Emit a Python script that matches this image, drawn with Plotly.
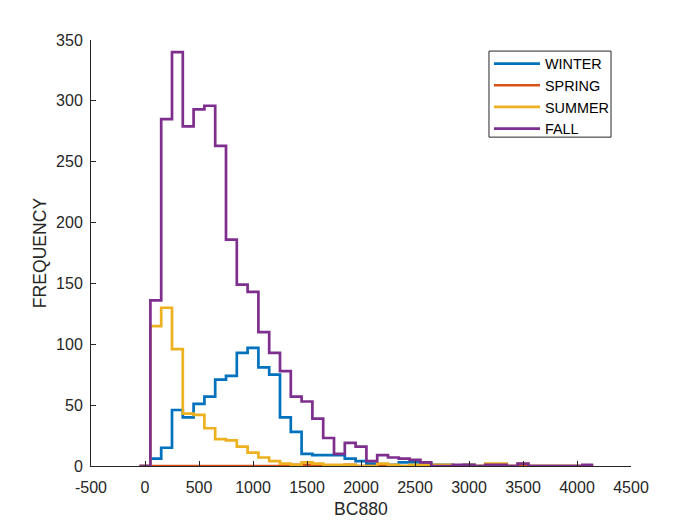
import plotly.graph_objects as go

# bin edges of the stairs (BC880), last edge closes the final step
bin_edges = [-50, 50, 150, 250, 350, 450, 550, 650, 750, 850, 950,
             1050, 1150, 1250, 1350, 1450, 1550, 1650, 1750, 1850, 1950,
             2050, 2150, 2250, 2350, 2450, 2550, 2650, 2750, 2850, 2950,
             3050, 3150, 3250, 3350, 3450, 3550, 3650, 3750, 3850, 3950,
             4050, 4150]

# counts per bin (one per bin, 42 bins)
winter = [0, 6, 15, 46, 40, 51, 57, 71, 74, 93, 97,
          81, 75, 40, 28, 10, 9, 9, 9, 6, 4,
          2, 1, 1, 3, 3, 2, 1, 1, 0, 1,
          0, 0, 0, 0, 0, 0, 0, 0, 0, 0, 0]
spring = [0, 0, 0, 0, 0, 0, 0, 0, 0, 0, 0,
          0, 0, 0, 1, 1, 0, 0, 0, 1, 0,
          0, 0, 0, 0, 0, 0, 0, 0, 0, 0,
          0, 0, 0, 0, 0, 0, 0, 0, 0, 0, 0]
summer = [0, 115, 130, 96, 43, 42, 31, 22, 21, 16, 11,
          7, 4, 2, 1, 3, 2, 1, 1, 1, 0,
          0, 2, 1, 0, 1, 1, 1, 1, 0, 1,
          0, 2, 2, 0, 2, 0, 0, 0, 0, 0, 0]
fall = [0, 136, 285, 340, 279, 293, 296, 263, 186, 149, 143,
        110, 93, 78, 57, 53, 39, 23, 10, 19, 16,
        4, 9, 7, 6, 5, 3, 0, 0, 1, 1,
        0, 1, 1, 0, 2, 0, 0, 0, 0, 0, 1]

x_ticks = [-500, 0, 500, 1000, 1500, 2000, 2500, 3000, 3500, 4000, 4500]
y_ticks = [0, 50, 100, 150, 200, 250, 300, 350]

series = [("WINTER", winter, "#0072BD"),
          ("SPRING", spring, "#D95319"),
          ("SUMMER", summer, "#EDB120"),
          ("FALL", fall, "#7E2F8E")]

fig = go.Figure()
for name, vals, col in series:
    fig.add_trace(go.Scatter(
        x=bin_edges, y=vals + [vals[-1]],
        mode="lines", line=dict(shape="hv", color=col, width=2.7),
        name=name))

# page body adds 8px, so margins are shifted accordingly
fig.update_layout(
    width=700, height=525,
    margin=dict(l=83, r=77, t=32, b=67),
    paper_bgcolor="white", plot_bgcolor="white",
    font=dict(family="Liberation Sans, Arial", size=16, color="#262626"),
    showlegend=True,
    legend=dict(x=0.737, y=0.982, xanchor="left", yanchor="top",
                borderwidth=0, bgcolor="rgba(0,0,0,0)",
                font=dict(size=14.4, color="black"),
                itemwidth=46),
    # legend box drawn separately so it can be tighter than plotly's padding
    shapes=[dict(type="rect", xref="paper", yref="paper",
                 x0=0.737, x1=0.963, y0=0.772, y1=0.974,
                 line=dict(color="#262626", width=1),
                 fillcolor="white", layer="below")],
)
fig.update_xaxes(range=[-500, 4500], tickvals=x_ticks,
                 ticktext=[str(t) for t in x_ticks], automargin=False,
                 showgrid=False, zeroline=False, showline=True,
                 linecolor="#262626", linewidth=1, ticks="inside",
                 ticklen=5, tickcolor="#262626", ticklabelstandoff=7,
                 title=dict(text="BC880", font=dict(size=17.6), standoff=7))
fig.update_yaxes(range=[0, 350], tickvals=y_ticks, automargin=False,
                 showgrid=False, zeroline=False, showline=True,
                 linecolor="#262626", linewidth=1, ticks="inside",
                 ticklen=5, tickcolor="#262626", ticklabelstandoff=4,
                 title=dict(text="FREQUENCY", font=dict(size=17.6), standoff=4))

fig.write_html("out.html")
